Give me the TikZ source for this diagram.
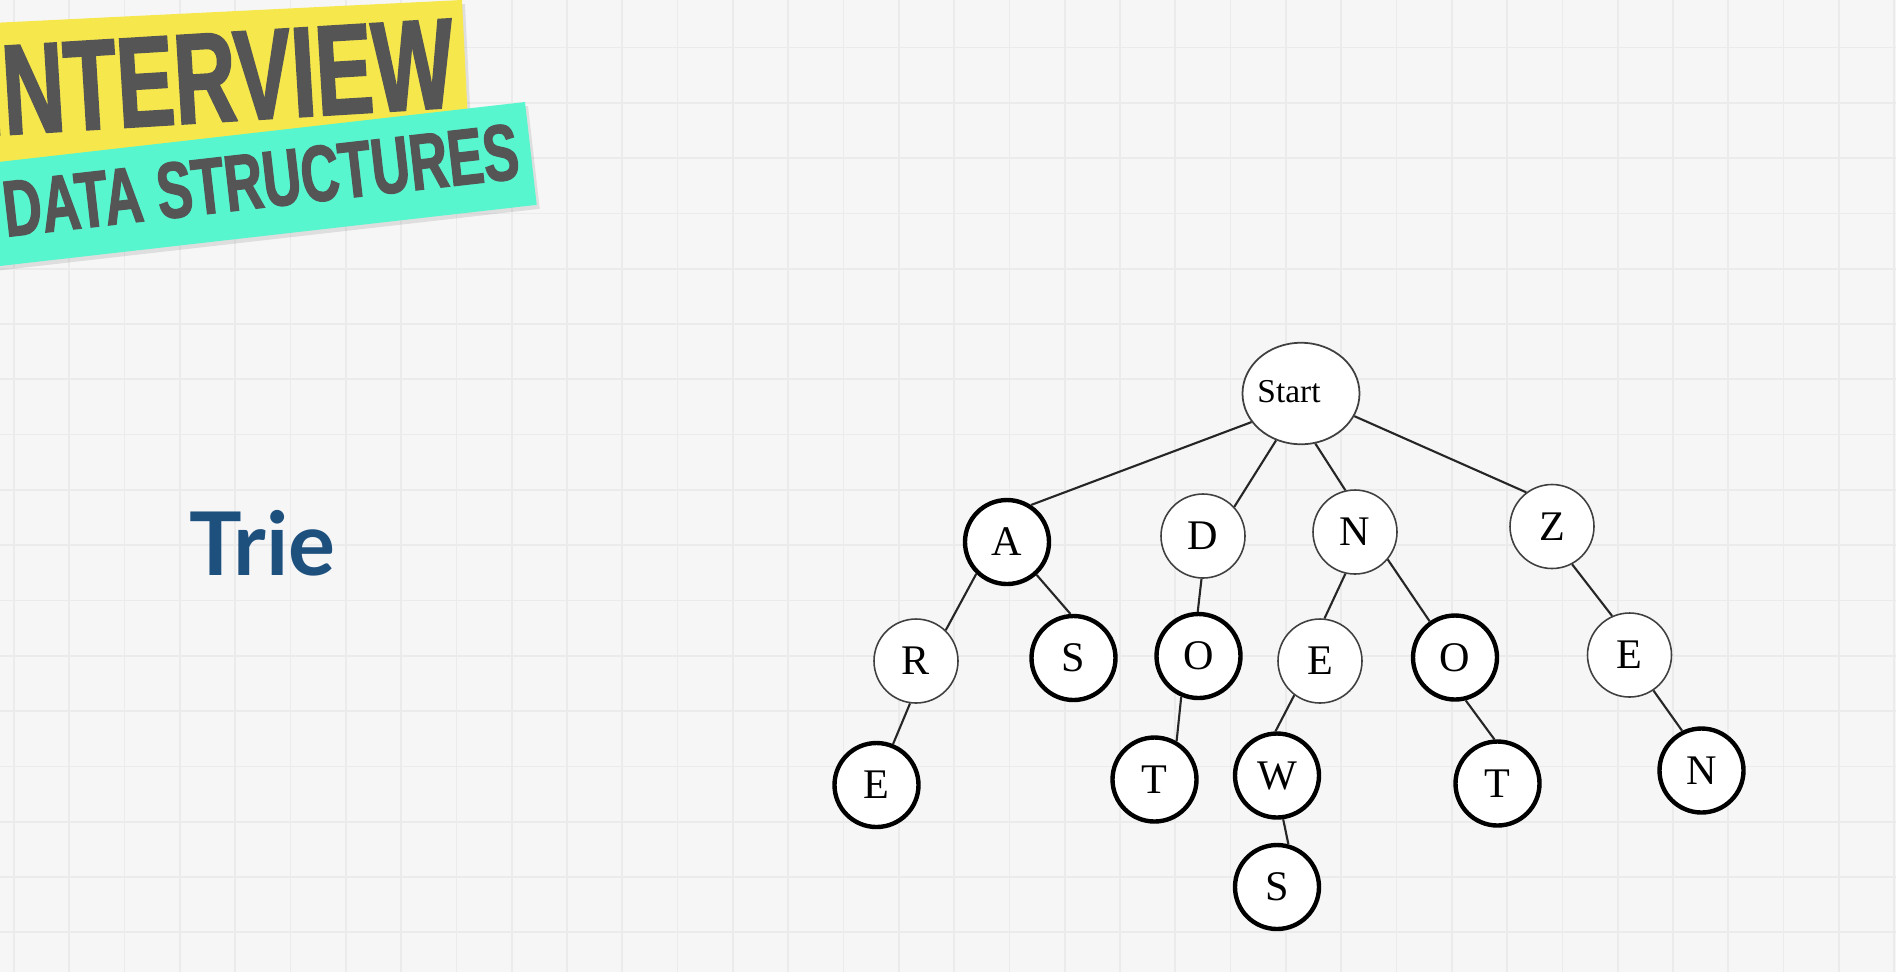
\documentclass[tikz,border=0pt]{standalone}
\usepackage{fontspec}
\setmainfont{Liberation Serif}
\newfontfamily\bannerfont[FakeStretch=0.67,FakeBold=1.6]{Liberation Sans}
\newfontfamily\triefont{Lato}
\usetikzlibrary{shapes}
\usetikzlibrary{shadows}
\definecolor{gridbg}{RGB}{246,246,246}
\definecolor{gridln}{RGB}{235,235,235}
\definecolor{banyellow}{RGB}{246,232,76}
\definecolor{banteal}{RGB}{88,246,206}
\definecolor{bantext}{RGB}{85,85,85}
\definecolor{trieblue}{RGB}{30,80,126}
\tikzset{
    gridline/.style = {draw=gridln, line width=0.5pt},
    trienode/.style = {circle, draw=black!75, line width=0.45pt, fill=white, minimum size=0.84cm, inner sep=0pt, font=\fontsize{12}{12}\selectfont},
    trienodeb/.style = {trienode, draw=black, line width=1.25pt}, % end of a word
    startnode/.style = {ellipse, draw=black!75, line width=0.5pt, fill=white, minimum width=1.17cm, minimum height=1.015cm, inner sep=0pt, font=\fontsize{9.5}{9.5}\selectfont},
    edgen/.style = {line width=0.6pt, draw=black!85},
    banner/.style = {drop shadow={shadow xshift=0.03cm, shadow yshift=-0.04cm, opacity=0.2}},
    bannertext/.style = {inner sep=0pt, text=bantext}
}
\begin{document}
\begin{tikzpicture}
\useasboundingbox (0,0) rectangle (18.96,-9.72);
%
% background grid
\fill[gridbg] (0,0) rectangle (18.96,-9.72);
\foreach \gx in {0,...,34} \draw[gridline] ({0.14+0.553*\gx},0) -- ({0.14+0.553*\gx},-9.72);
\foreach \gy in {0,...,16} \draw[gridline] (0,{-0.475-0.553*\gy}) -- (18.96,{-0.475-0.553*\gy});
%
% banner
\begin{scope}
\clip (0,0) rectangle (18.96,-9.72);
\fill[banyellow, banner, rotate around={2.8:(4.62,0)}] (-1.5,0) rectangle (4.62,-1.75);
\node[bannertext, font=\bannerfont\bfseries\fontsize{36.5}{36.5}\selectfont, rotate=3.5, anchor=base east] at (4.57,-1.07) (iv) {INTERVIEW};
\fill[banteal, banner, rotate around={6.5:(5.25,-1.02)}] (-1.5,-1.02) rectangle (5.25,-2.055);
\node[bannertext, font=\bannerfont\bfseries\fontsize{22.6}{22.6}\selectfont, rotate=6.5, anchor=base east] at (5.22,-1.78) (ds) {DATA STRUCTURES};
\end{scope}
%
\node[font=\triefont\bfseries\fontsize{25}{25}\selectfont, text=trieblue, anchor=base west, inner sep=0pt] at (1.89,-5.75) (title) {Trie};
%
% trie
\node[startnode] at (13.01, -3.935) (st) {\hspace*{-0.24cm}\raisebox{0.05cm}{Start}};
\node[trienodeb] at (10.07, -5.42) (a) {A};
\node[trienode] at (12.03, -5.36) (d) {D};
\node[trienode] at (13.55, -5.32) (n) {N};
\node[trienode] at (15.52, -5.265) (z) {Z};
\node[trienode] at (9.16, -6.61) (ar) {R};
\node[trienodeb] at (10.735, -6.58) (as) {S};
\node[trienodeb] at (11.985, -6.56) (do) {O};
\node[trienode] at (13.20, -6.61) (ne) {E};
\node[trienodeb] at (14.55, -6.575) (no) {O};
\node[trienode] at (16.295, -6.55) (ze) {E};
\node[trienodeb] at (8.765, -7.85) (are) {E};
\node[trienodeb] at (11.545, -7.795) (dot) {T};
\node[trienodeb] at (12.77, -7.755) (new) {W};
\node[trienodeb] at (14.975, -7.835) (not) {T};
\node[trienodeb] at (17.015, -7.705) (zen) {N};
\node[trienodeb] at (12.77, -8.87) (news) {S};
%
\draw[edgen] (st.210) edge (a.57);
\draw[edgen] (st.242) edge (d.43);
\draw[edgen] (st.286) edge (n.103);
\draw[edgen] (st.337) edge (z.127);
\draw[edgen] (a.226) edge (ar.46);
\draw[edgen] (a.312) edge (as.94);
\draw[edgen] (d.268) edge (do.91);
\draw[edgen] (n.257) edge (ne.84);
\draw[edgen] (n.320) edge (no.125);
\draw[edgen] (z.298) edge (ze.114);
\draw[edgen] (ar.262) edge (are.68);
\draw[edgen] (do.247) edge (dot.60);
\draw[edgen] (ne.233) edge (new.92);
\draw[edgen] (new.278) edge (news.75);
\draw[edgen] (no.284) edge (not.94);
\draw[edgen] (ze.304) edge (zen.116);

\end{tikzpicture}
\end{document}
